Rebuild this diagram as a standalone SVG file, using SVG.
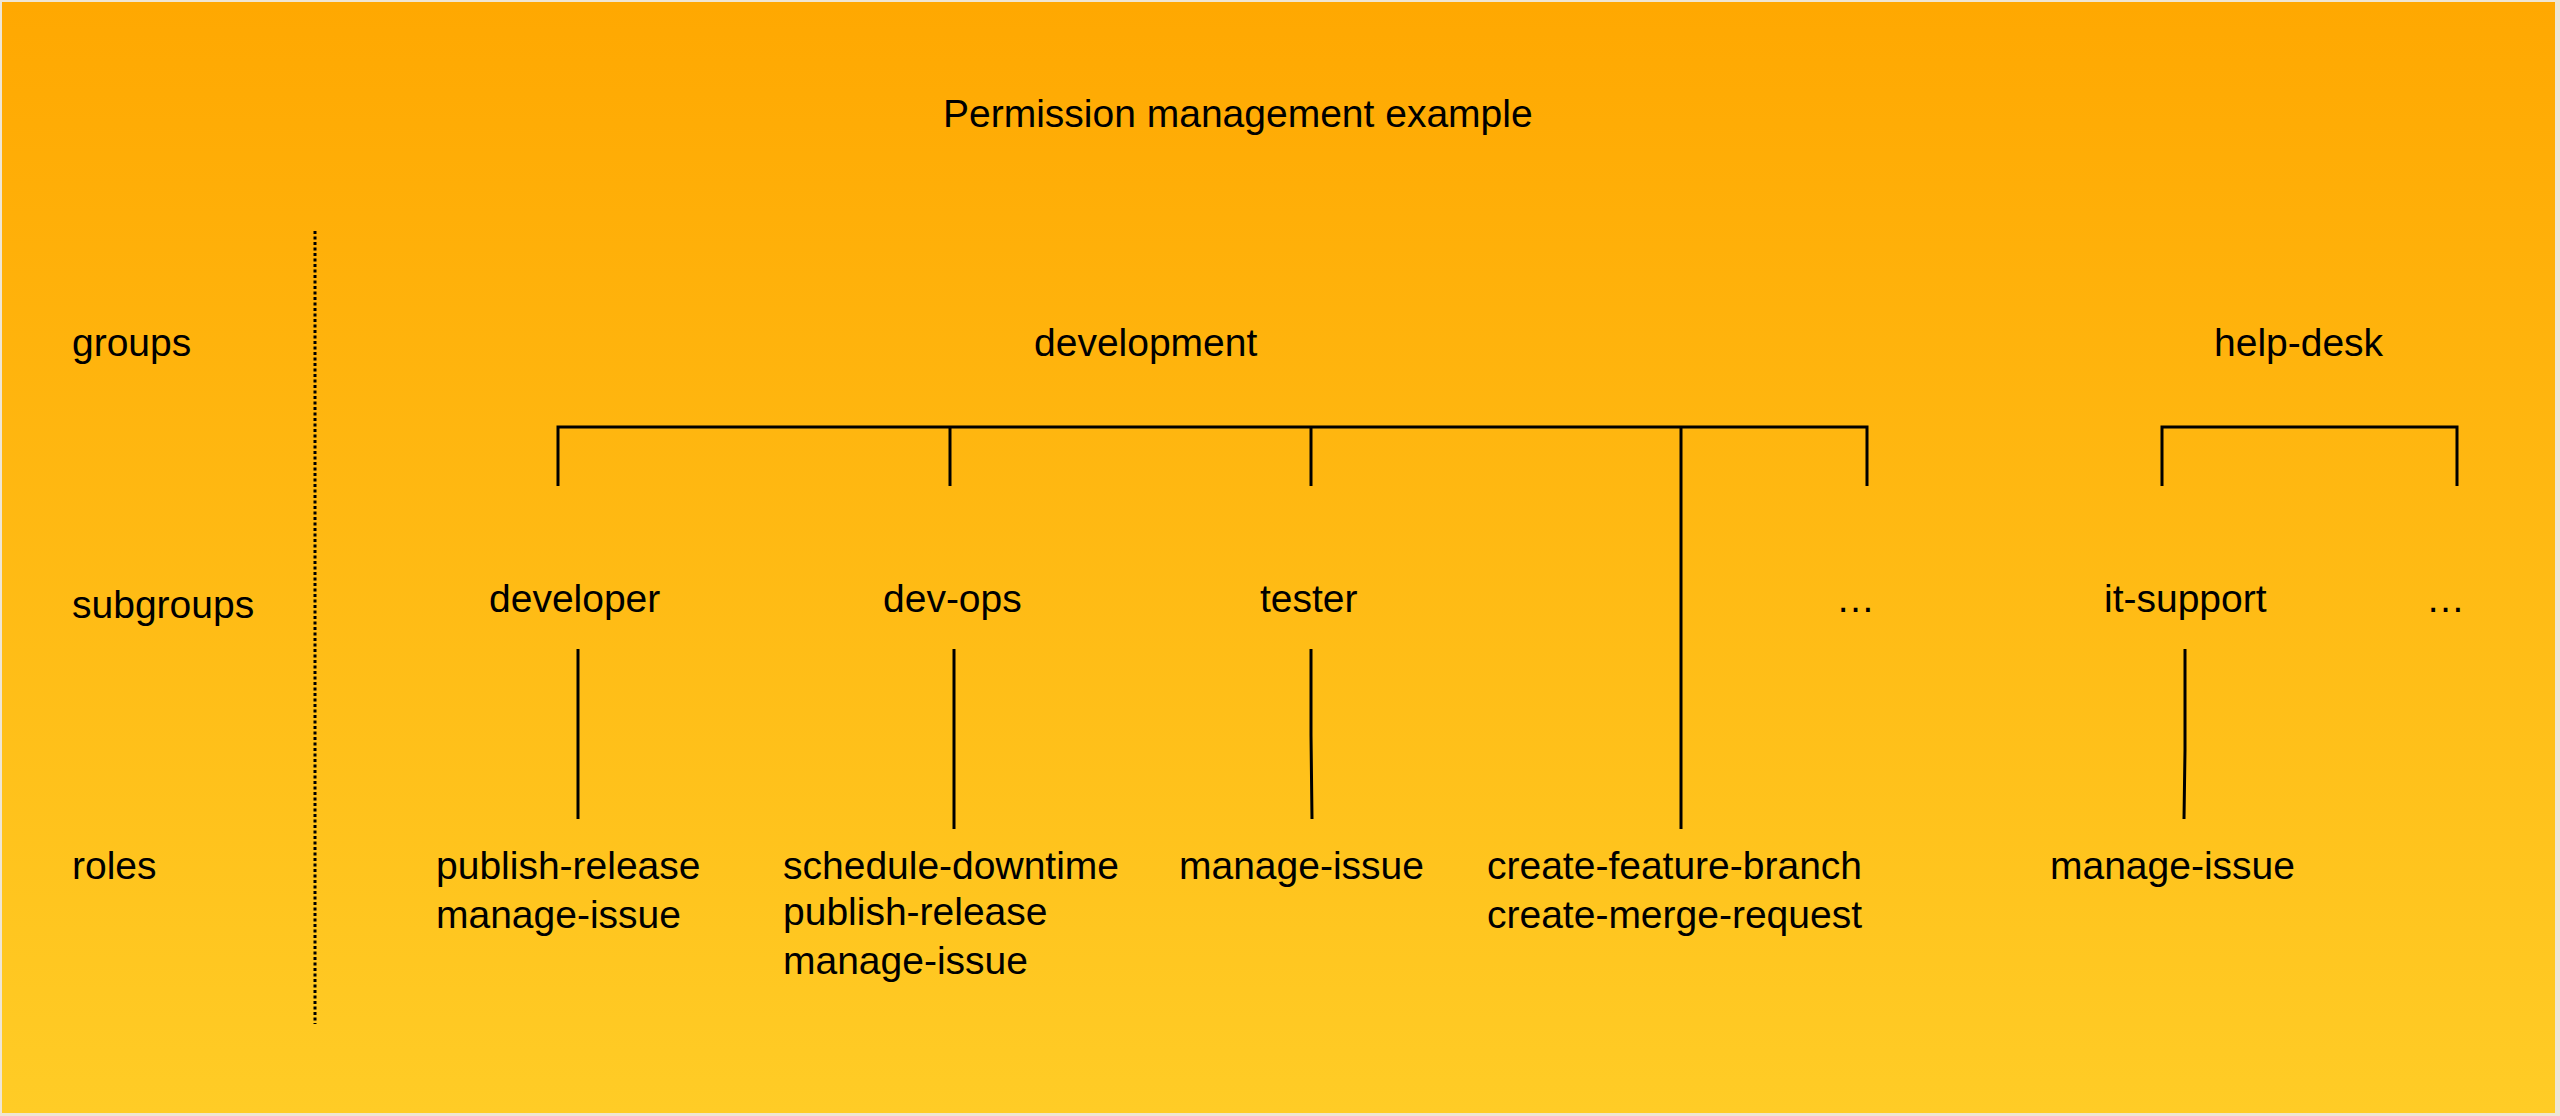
<svg xmlns="http://www.w3.org/2000/svg" width="2560" height="1116" viewBox="0 0 2560 1116">
  <defs>
    <linearGradient id="bg" x1="0" y1="0" x2="0" y2="1">
      <stop offset="0" stop-color="#FFA801"/>
      <stop offset="1" stop-color="#FFCC26"/>
    </linearGradient>
    <style>
      text { font-family: "Liberation Sans", Arial, sans-serif; font-size: 39px; fill: #000; }
      .ln { stroke: #000; stroke-width: 3; fill: none; stroke-linecap: butt; }
      .dot { stroke: #000; stroke-width: 3; fill: none; stroke-dasharray: 3 2.5; }
    </style>
  </defs>
  <rect x="0" y="0" width="2560" height="1116" fill="#EFE6D4"/>
  <rect x="2" y="2" width="2553" height="1111" fill="url(#bg)"/>

  <g id="title"><text x="943" y="127">Permission management example</text></g>

  <g id="legend">
    <text x="72" y="356">groups</text>
    <text x="72" y="618">subgroups</text>
    <text x="72" y="879">roles</text>
  </g>

  <g id="separator"><line class="dot" x1="315" y1="231" x2="315" y2="1024"/></g>

  <g id="group-development"><text x="1034" y="356">development</text></g>
  <g id="group-help-desk"><text x="2214" y="356">help-desk</text></g>

  <g id="sub-developer"><text x="489" y="612">developer</text></g>
  <g id="sub-dev-ops"><text x="883" y="612">dev-ops</text></g>
  <g id="sub-tester"><text x="1260" y="612">tester</text></g>
  <g id="sub-more-dev"><text x="1836" y="612">…</text></g>
  <g id="sub-it-support"><text x="2104" y="612">it-support</text></g>
  <g id="sub-more-help"><text x="2426" y="612">…</text></g>

  <g id="roles-developer">
    <text x="436" y="879">publish-release</text>
    <text x="436" y="928">manage-issue</text>
  </g>
  <g id="roles-dev-ops">
    <text x="783" y="879">schedule-downtime</text>
    <text x="783" y="925">publish-release</text>
    <text x="783" y="974">manage-issue</text>
  </g>
  <g id="roles-tester"><text x="1179" y="879">manage-issue</text></g>
  <g id="roles-development">
    <text x="1487" y="879">create-feature-branch</text>
    <text x="1487" y="928">create-merge-request</text>
  </g>
  <g id="roles-it-support"><text x="2050" y="879">manage-issue</text></g>

  <g id="connectors">
    <polyline class="ln" points="558,486 558,427 1867,427 1867,486"/>
    <line class="ln" x1="950" y1="427" x2="950" y2="486"/>
    <line class="ln" x1="1311" y1="427" x2="1311" y2="486"/>
    <line class="ln" x1="1681" y1="427" x2="1681" y2="829"/>
    <polyline class="ln" points="2162,486 2162,427 2457,427 2457,486"/>
    <line class="ln" x1="578" y1="649" x2="578" y2="819"/>
    <line class="ln" x1="954" y1="649" x2="954" y2="829"/>
    <polyline class="ln" points="1311,649 1311,735 1312,819"/>
    <polyline class="ln" points="2185,649 2185,750 2184,819"/>
  </g>
</svg>
